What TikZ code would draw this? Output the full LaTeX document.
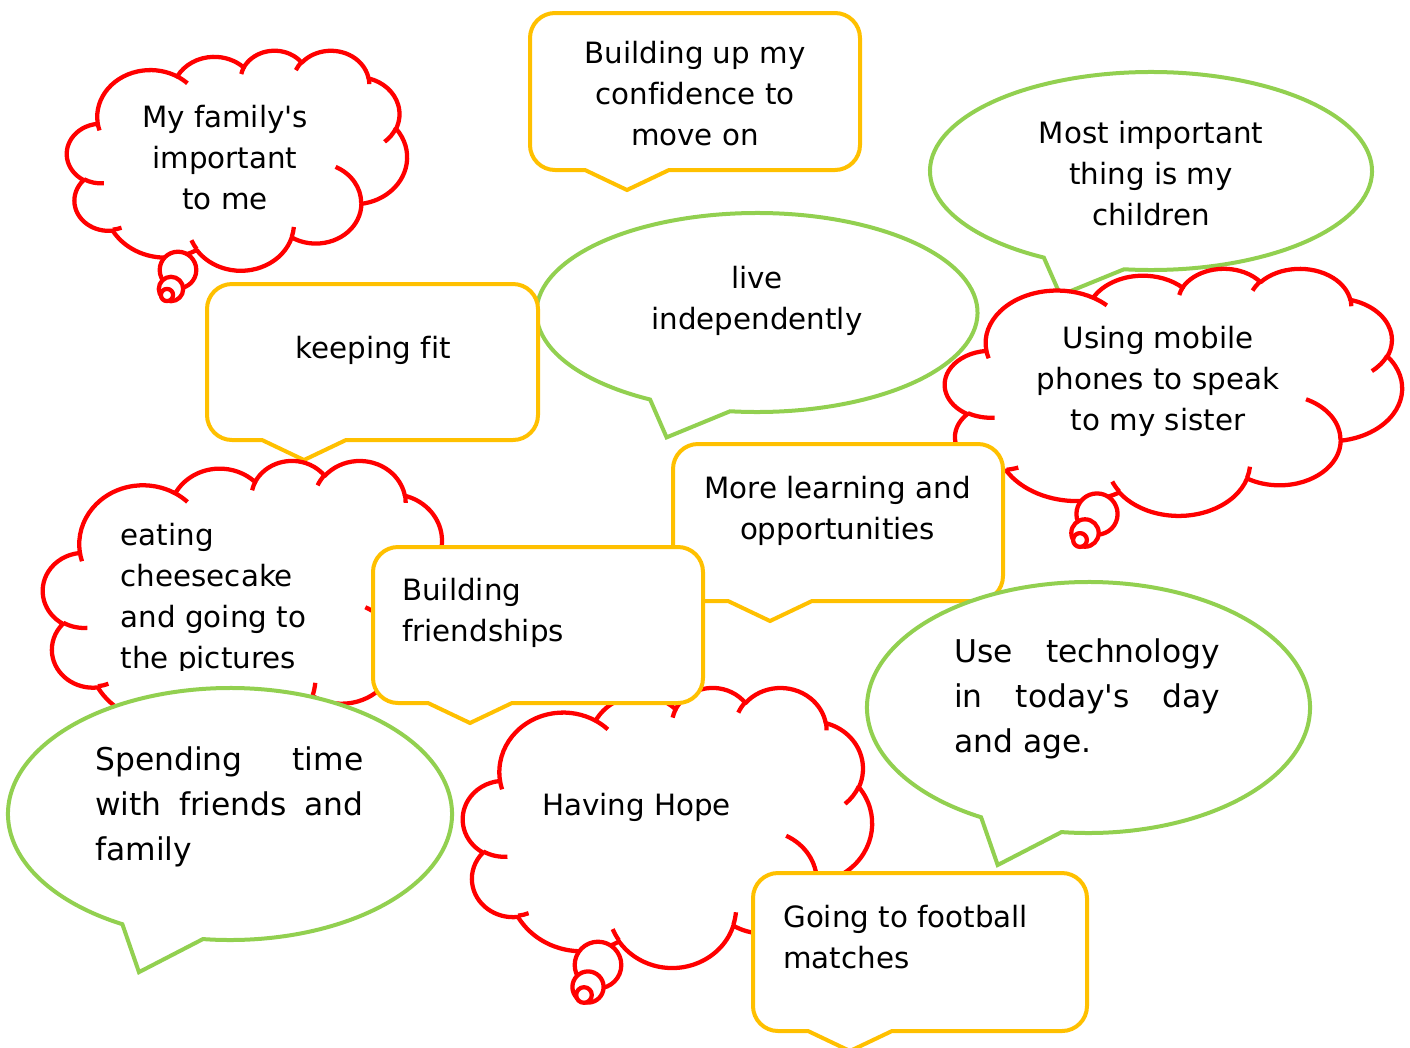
\documentclass[tikz,border=0pt]{standalone}
\usepackage{fontspec}
\newfontfamily\bubblefont{DejaVu Sans}[Ligatures=NoCommon]

\definecolor{cloudred}{RGB}{255,0,0}
\definecolor{boxyellow}{RGB}{255,192,0}
\definecolor{ovalgreen}{RGB}{146,208,80}

\tikzset{
  declare function={pa(\w,\h,\a)=atan2((\w)*sin(\a),(\h)*cos(\a));},
  carc/.style n args={4}{x radius=#1, y radius=#2, start angle={pa(#1,#2,#3)},
    delta angle={mod(pa(#1,#2,(#3)+(#4))-pa(#1,#2,#3)+720,360)}},
  redline/.style={draw=cloudred, line width=3.2pt, line join=round, fill=white},
  yellowline/.style={draw=boxyellow, line width=3pt, fill=white},
  greenline/.style={draw=ovalgreen, line width=3pt, fill=white},
  txt/.style={inner sep=0pt, align=center, font=\bubblefont\fontsize{22}{30.75}\selectfont},
  txtl/.style={txt, align=left},
  txtj/.style={inner sep=0pt, align=left, font=\bubblefont\fontsize{23.5}{33.75}\selectfont}
}

% cloud callout: left, top, width, height
\newcommand{\cloudshape}[4]{%
  \begin{scope}[shift={(#1,#2)}, xscale=#3/43.2, yscale=#4/43.2]
    \draw[redline] (3.9,14.37) arc[carc={6.753}{9.19}{-190.4875}{123.7805}]
      arc[carc={5.333}{7.267}{-144.1024}{89.9452}]
      arc[carc={4.365}{5.945}{-145.8079}{99.723}]
      arc[carc={4.857}{6.595}{-130.9861}{117.2417}]
      arc[carc={5.333}{7.273}{-78.7089}{109.0269}]
      arc[carc={6.775}{9.22}{-46.2673}{130.269}]
      arc[carc={5.785}{7.867}{0.625}{114.0333}]
      arc[carc={6.752}{9.215}{22.4516}{115.1726}]
      arc[carc={7.72}{10.543}{66.2426}{75.711}]
      arc[carc={4.36}{5.918}{-274.9421}{146.7356}]
      arc[carc={4.345}{5.945}{-246.8285}{152.5189}] -- cycle;
    \draw[redline, fill=none] (4.693,26.177) arc[carc={4.345}{5.945}{86.742}{26.4295}]
      (6.928,34.899) arc[carc={4.36}{5.918}{73.6105}{11.4475}]
      (16.478,39.09) arc[carc={6.752}{9.215}{137.6242}{14.0811}]
      (28.827,34.751) arc[carc={6.752}{9.215}{6.4533}{15.9984}]
      (34.129,22.954) arc[carc={5.785}{7.867}{-70.2924}{70.9174}]
      (41.798,15.354) arc[carc={5.333}{7.273}{30.318}{27.7515}]
      (38.324,5.426) arc[carc={4.857}{6.595}{-13.7443}{14.8589}]
      (29.078,3.952) arc[carc={4.857}{6.595}{-149.1815}{18.1954}]
      (22.141,4.72) arc[carc={4.365}{5.945}{-163.4943}{17.6864}]
      (14,5.192) arc[carc={6.753}{9.19}{-66.707}{12.3194}]
      (4.127,15.789) arc[carc={6.753}{9.19}{157.6544}{11.8582}];
  \end{scope}}

% rounded callout: x1, y1, x2, y2
\newcommand{\calloutbox}[4]{%
  \draw[yellowline] ({#1+55},#4) -- ({#1+25},#4) arc[start angle=90, end angle=180, radius=25]
    -- (#1,{#2+25}) arc[start angle=180, end angle=270, radius=25]
    -- ({#3-25},#2) arc[start angle=270, end angle=360, radius=25]
    -- (#3,{#4-25}) arc[start angle=0, end angle=90, radius=25]
    -- ({#1+139},#4) -- ({#1+97},{#4+20}) -- cycle;}

% oval callout: cx, cy, rx, ry
\newcommand{\ovalcallout}[4]{%
  \draw[greenline] ({#1-0.41*#3},{#2+1.255*#4}) -- ([shift={(119:#3 and #4)}]#1,#2)
    arc[start angle=119, end angle=457, x radius=#3, y radius=#4] -- cycle;}

\begin{document}
\begin{tikzpicture}[x=0.75pt,y=0.75pt,yscale=-1,xscale=1]
\useasboundingbox (0,0) rectangle (1410,1047);

%Shape: Cloud Callout [family]
\cloudshape{67}{50}{340}{220}
\draw[redline] (178,270) circle[radius=18.3];
\draw[redline] (171,289) circle[radius=12.2];
\draw[redline] (167,295) circle[radius=6.1];
% Text Node
\draw (225,98.3) node (familytxt) [anchor=north, txt] {\strut My family's\\important\\to me};

%Shape: Rounded Callout [confidence]
\calloutbox{530}{13}{860}{170}
% Text Node
\draw (695,34.3) node (confidencetxt) [anchor=north, txt] {\strut Building up my\\confidence to\\move on};

%Shape: Oval Callout [children]
\ovalcallout{1151}{171}{221}{99}
% Text Node
\draw (1151,114.3) node (childrentxt) [anchor=north, txt] {\strut Most important\\thing is my\\children};

%Shape: Oval Callout [independent]
\ovalcallout{757}{312.5}{220.5}{99.5}
% Text Node
\draw (757,259.3) node (livetxt) [anchor=north, txt] {\strut live\\independently};

%Shape: Rounded Callout [fit]
\calloutbox{207}{284}{538}{440}
% Text Node
\draw (373,329.3) node (fittxt) [anchor=north, txt] {\strut keeping fit};

%Shape: Cloud Callout [phones]
\cloudshape{945}{268}{457}{247}
\draw[redline] (1097,514) circle[radius=20.6];
\draw[redline] (1085,533) circle[radius=13.7];
\draw[redline] (1080,540) circle[radius=6.9];
% Text Node
\draw (1158,319.3) node (phonetxt) [anchor=north, txt] {\strut Using mobile\\phones to speak\\to my sister};

%Shape: Rounded Callout [learning]
\calloutbox{673}{444}{1003}{601}
% Text Node
\draw (837.5,469.3) node (learningtxt) [anchor=north, txt] {\strut More learning and\\opportunities};

%Shape: Cloud Callout [cheesecake]
\cloudshape{43}{460}{408}{277}
% Text Node
\begin{scope}
\clip (0,0) rectangle (1410,670);
\draw (120.5,516.3) node (cheesetxt) [anchor=north west, txtl] {\strut eating\\cheesecake\\and going to\\the pictures};
\end{scope}

%Shape: Cloud Callout [hope]
\cloudshape{463}{687}{409}{280}
\draw[redline] (598,965) circle[radius=23.3];
\draw[redline] (588,987) circle[radius=15.6];
\draw[redline] (584,995) circle[radius=7.8];
% Text Node
\draw (636.5,786.3) node (hopetxt) [anchor=north, txt] {\strut Having Hope};

%Shape: Rounded Callout [friendships]
\calloutbox{373}{547}{703}{703}
% Text Node
\draw (402,571.3) node (friendtxt) [anchor=north west, txtl] {\strut Building\\friendships};

%Shape: Oval Callout [spending]
\ovalcallout{230}{814}{222}{126}
% Text Node
\draw (95,738.5) node (spendtxt) [anchor=north west, txtj] {\strut\makebox[201pt][s]{Spending time}\\\makebox[201pt][s]{with friends and}\\family};

%Shape: Oval Callout [technology]
\ovalcallout{1088.5}{707.5}{221.5}{125.5}
% Text Node
\draw (954,630.5) node (techtxt) [anchor=north west, txtj] {\strut\makebox[199.5pt][s]{Use technology}\\\makebox[199.5pt][s]{in today's day}\\and age.};

%Shape: Rounded Callout [football]
\calloutbox{753}{873}{1087}{1031}
% Text Node
\draw (783,898.3) node (footballtxt) [anchor=north west, txtl] {\strut Going to football\\matches};

\end{tikzpicture}
\end{document}
